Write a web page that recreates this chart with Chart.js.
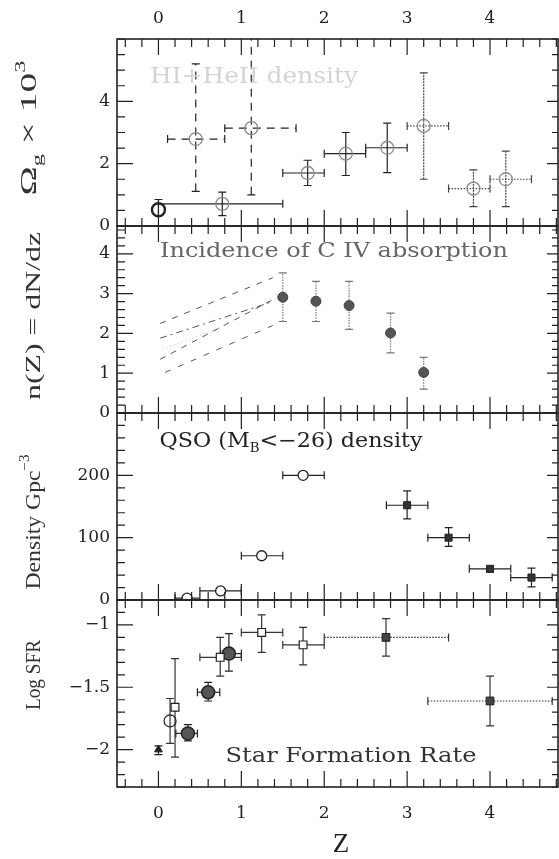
<!DOCTYPE html>
<html>
<head>
<meta charset="utf-8">
<script src="https://cdn.jsdelivr.net/npm/chart.js@4.4.1/dist/chart.umd.min.js"></script>
<style>
  html, body { margin: 0; padding: 0; background: #fff; }
</style>
</head>
<body>
<canvas id="c" width="559" height="859"></canvas>
<script>
// ---- panel 1: gas density, Omega_g x 10^3 ----
const omegaZ    = [0.0, 0.77, 1.80, 2.26, 2.76];
const omegaVal  = [0.52, 0.71, 1.70, 2.32, 2.51];
const omegaLo   = [0.33, 0.33, 1.30, 1.62, 1.71];
const omegaHi   = [0.85, 1.09, 2.11, 3.00, 3.30];
const omegaZLo  = [0.0, 0.0, 1.5, 2.0, 2.5];
const omegaZHi  = [0.0, 1.5, 2.0, 2.5, 3.0];

const omegaDashZ   = [0.45, 1.12];
const omegaDashVal = [2.79, 3.14];
const omegaDashLo  = [1.11, 1.00];
const omegaDashHi  = [5.20, 6.40];
const omegaDashZLo = [0.11, 0.80];
const omegaDashZHi = [0.80, 1.66];

const omegaDotZ   = [3.20, 3.80, 4.19];
const omegaDotVal = [3.21, 1.20, 1.50];
const omegaDotLo  = [1.50, 0.62, 0.62];
const omegaDotHi  = [4.91, 1.80, 2.40];
const omegaDotZLo = [3.0, 3.5, 4.0];
const omegaDotZHi = [3.5, 4.0, 4.5];

// ---- panel 2: incidence of C IV ----
const civZ   = [1.50, 1.90, 2.30, 2.80, 3.20];
const civVal = [2.91, 2.81, 2.70, 2.01, 1.02];
const civLo  = [2.30, 2.30, 2.10, 1.51, 0.60];
const civHi  = [3.52, 3.31, 3.31, 2.51, 1.40];

const civModelZ  = [0.02, 1.38];
const civModel1  = [2.25, 3.40];
const civModel2  = [1.88, 2.80];
const civModel3  = [1.35, 2.85];
const civModel4Z = [0.08, 1.38];
const civModel4  = [1.02, 2.20];
const civFaintZ  = [0.05, 0.75];
const civFaint   = [1.60, 2.15];

// ---- panel 3: QSO density ----
const qsoOpenZ   = [0.345, 0.75, 1.245, 1.745];
const qsoOpenVal = [3, 14.5, 71, 200];
const qsoOpenZLo = [0.2, 0.5, 1.0, 1.5];
const qsoOpenZHi = [0.5, 1.0, 1.5, 2.0];

const qsoSqZ   = [3.0, 3.5, 4.0, 4.5];
const qsoSqVal = [152, 100, 50, 36];
const qsoSqLo  = [130, 86, 45, 21];
const qsoSqHi  = [175, 116, 54, 51];
const qsoSqZLo = [2.75, 3.25, 3.75, 4.25];
const qsoSqZHi = [3.25, 3.75, 4.25, 4.75];

// ---- panel 4: star formation rate ----
const sfrTriZ = [0.0], sfrTriVal = [-2.0], sfrTriLo = [-2.04], sfrTriHi = [-1.97];
const sfrRingZ = [0.14], sfrRingVal = [-1.77], sfrRingLo = [-1.95], sfrRingHi = [-1.59];

const sfrOpenSqZ   = [0.20, 0.745, 1.245, 1.745];
const sfrOpenSqVal = [-1.66, -1.26, -1.06, -1.16];
const sfrOpenSqLo  = [-2.06, -1.41, -1.22, -1.32];
const sfrOpenSqHi  = [-1.27, -1.10, -0.92, -1.02];
const sfrOpenSqZLo = [0.20, 0.50, 1.0, 1.5];
const sfrOpenSqZHi = [0.20, 1.0, 1.5, 2.0];

const sfrDiscZ   = [0.355, 0.60, 0.85];
const sfrDiscVal = [-1.87, -1.54, -1.23];
const sfrDiscLo  = [-1.93, -1.61, -1.37];
const sfrDiscHi  = [-1.80, -1.46, -1.07];
const sfrDiscZLo = [0.21, 0.47, 0.75];
const sfrDiscZHi = [0.47, 0.74, 1.0];

const sfrSqZ   = [2.745, 4.0];
const sfrSqVal = [-1.10, -1.61];
const sfrSqLo  = [-1.25, -1.81];
const sfrSqHi  = [-0.95, -1.41];
const sfrSqZLo = [2.0, 3.25];
const sfrSqZHi = [3.5, 4.75];

// tick labels
const zTicks = [0, 1, 2, 3, 4];
const omegaTicks = [0, 2, 4];
const civTicks = [0, 1, 2, 3, 4];
const qsoTicks = [0, 100, 200];
const sfrTicks = [-2, -1.5, -1];

const pts = (xs, ys) => xs.map((x, i) => ({ x, y: ys[i] }));
const SERIF = '"DejaVu Serif", serif';
const TITLE = '"Liberation Serif", serif';

const panels = ['yO', 'yC', 'yQ', 'yS'];
const minorStep = { yO: 0.5, yC: 0.2, yQ: 20, yS: 0.1 };

// error bars under the markers, clipped to each panel
const errorBars = {
    id: 'errorBars',
    beforeDatasetsDraw(chart) {
        const ctx = chart.ctx;
        chart.data.datasets.forEach((ds, i) => {
            const e = ds.err;
            if (!e) return;
            const meta = chart.getDatasetMeta(i);
            const xs = chart.scales[meta.xAxisID], ys = chart.scales[meta.yAxisID];
            const cap = e.cap || 4;
            ctx.save();
            ctx.beginPath();
            ctx.rect(xs.left, ys.top, xs.right - xs.left, ys.bottom - ys.top);
            ctx.clip();
            ctx.strokeStyle = e.color || '#222';
            ctx.lineWidth = e.width || 1.2;
            ds.data.forEach((p, j) => {
                const px = xs.getPixelForValue(p.x), py = ys.getPixelForValue(p.y);
                if (e.yLo && e.yLo[j] !== e.yHi[j]) {
                    const a = ys.getPixelForValue(e.yLo[j]), b = ys.getPixelForValue(e.yHi[j]);
                    ctx.setLineDash(e.yDash || []);
                    ctx.beginPath();
                    ctx.moveTo(px, a); ctx.lineTo(px, b);
                    ctx.stroke();
                    ctx.setLineDash([]);
                    ctx.beginPath();
                    ctx.moveTo(px - cap, a); ctx.lineTo(px + cap, a);
                    ctx.moveTo(px - cap, b); ctx.lineTo(px + cap, b);
                    ctx.stroke();
                }
                if (e.xLo && e.xLo[j] !== e.xHi[j]) {
                    const a = xs.getPixelForValue(e.xLo[j]), b = xs.getPixelForValue(e.xHi[j]);
                    ctx.setLineDash(e.xDash || []);
                    ctx.beginPath();
                    ctx.moveTo(a, py); ctx.lineTo(b, py);
                    ctx.stroke();
                    ctx.setLineDash([]);
                    ctx.beginPath();
                    ctx.moveTo(a, py - cap); ctx.lineTo(a, py + cap);
                    ctx.moveTo(b, py - cap); ctx.lineTo(b, py + cap);
                    ctx.stroke();
                }
            });
            ctx.restore();
        });
    }
};

// boxes with inward ticks on all four sides of every panel
const panelFrame = {
    id: 'panelFrame',
    afterDatasetsDraw(chart) {
        const ctx = chart.ctx, xs = chart.scales.x;
        const l = xs.left, r = xs.right;
        ctx.save();
        ctx.strokeStyle = '#222';
        panels.forEach(id => {
            const ys = chart.scales[id];
            const t = ys.top, b = ys.bottom;
            ctx.lineWidth = 1.2;
            ctx.beginPath();
            for (let k = Math.ceil(xs.min / 0.2); k * 0.2 <= xs.max + 1e-9; k++) {
                const v = k * 0.2;
                const len = Math.abs(v - Math.round(v)) < 1e-6 ? 16 : 8;
                const p = xs.getPixelForValue(v);
                ctx.moveTo(p, t); ctx.lineTo(p, t + len);
                ctx.moveTo(p, b); ctx.lineTo(p, b - len);
            }
            const step = minorStep[id];
            const majors = ys.ticks.map(tk => tk.value);
            for (let k = Math.ceil(ys.min / step - 1e-9); k * step <= ys.max + 1e-9; k++) {
                const v = k * step;
                const major = majors.some(m => Math.abs(m - v) < 1e-6);
                const p = ys.getPixelForValue(v);
                ctx.moveTo(l, p); ctx.lineTo(l + (major ? 16 : 8), p);
                ctx.moveTo(r, p); ctx.lineTo(r - (major ? 11 : 6), p);
            }
            ctx.stroke();
            ctx.lineWidth = 1.6;
            ctx.strokeRect(l, t, r - l, b - t);
        });
        ctx.restore();
    }
};

function drawRich(ctx, segs, x, y, o) {
    ctx.save();
    ctx.translate(x, y);
    if (o.angle) ctx.rotate(o.angle);
    const fontFor = s => ((s.sub || s.sup) ? Math.round(o.size * 0.62) : o.size) + 'px ' + o.family;
    let w = 0;
    segs.forEach(s => { ctx.font = fontFor(s); w += ctx.measureText(s.t).width; });
    if (o.length) ctx.scale(o.length / w, 1);
    ctx.fillStyle = o.color;
    ctx.textBaseline = 'middle';
    ctx.textAlign = 'left';
    let cx = -w / 2;
    segs.forEach(s => {
        ctx.font = fontFor(s);
        const dy = s.sub ? o.size * 0.32 : s.sup ? -o.size * 0.38 : 0;
        ctx.fillText(s.t, cx, dy);
        cx += ctx.measureText(s.t).width;
    });
    ctx.restore();
}

const labels = {
    id: 'labels',
    afterDraw(chart) {
        const ctx = chart.ctx;
        const up = -Math.PI / 2;
        drawRich(ctx, [{ t: 'Ω' }, { t: 'g', sub: true }, { t: ' × 10' }, { t: '3', sup: true }], 30, 128,
            { size: 24, family: TITLE, color: '#333', angle: up, length: 135 });
        drawRich(ctx, [{ t: 'n(Z) = dN/dz' }], 34, 316,
            { size: 22, family: TITLE, color: '#333', angle: up, length: 168 });
        drawRich(ctx, [{ t: 'Density Gpc' }, { t: '−3', sup: true }], 34, 522,
            { size: 22, family: TITLE, color: '#333', angle: up, length: 135 });
        drawRich(ctx, [{ t: 'Log SFR' }], 35, 675,
            { size: 20, family: TITLE, color: '#333', angle: up, length: 70 });
        drawRich(ctx, [{ t: 'Z' }], 341, 845, { size: 27, family: TITLE, color: '#222' });

        drawRich(ctx, [{ t: 'HI+HeII density' }], 254, 77, { size: 22, family: SERIF, color: '#d4d4d4', length: 208 });
        drawRich(ctx, [{ t: 'Incidence of C IV absorption' }], 334, 252, { size: 20, family: SERIF, color: '#666', length: 348 });
        drawRich(ctx, [{ t: 'QSO (M' }, { t: 'B', sub: true }, { t: '<−26) density' }], 291, 442,
            { size: 20, family: SERIF, color: '#222', length: 263 });
        drawRich(ctx, [{ t: 'Star Formation Rate' }], 351, 757, { size: 20, family: SERIF, color: '#333', length: 251 });
    }
};

const tickFont = { family: SERIF, size: 17 };
const minus = v => String(v).replace('-', '−');

function yAxis(min, max, ticks) {
    return {
        type: 'linear', position: 'left', stack: 'panels', stackWeight: 1,
        min, max,
        afterBuildTicks: s => { s.ticks = ticks.map(v => ({ value: v })); },
        afterFit: s => { s.width = 117; },
        grid: { display: false, drawTicks: false },
        border: { display: false },
        ticks: { font: tickFont, color: '#222', padding: 7, callback: minus }
    };
}

function xAxis(pos, height, pad) {
    return {
        type: 'linear', position: pos, min: -0.5, max: 4.82,
        afterBuildTicks: s => { s.ticks = zTicks.map(v => ({ value: v })); },
        afterFit: s => { s.height = height; },
        grid: { display: false, drawTicks: false },
        border: { display: false },
        ticks: { font: tickFont, color: '#222', padding: pad, maxRotation: 0 }
    };
}

const ring = { pointStyle: 'circle', pointRadius: 6.5, pointBackgroundColor: 'rgba(0,0,0,0)', pointBorderColor: '#8a8a8a', pointBorderWidth: 1.3 };

new Chart(document.getElementById('c'), {
    type: 'scatter',
    data: {
        datasets: [
            // panel 1
            { yAxisID: 'yO', data: pts(omegaZ, omegaVal), ...ring,
              pointBorderColor: ['#222', '#8a8a8a', '#8a8a8a', '#8a8a8a', '#8a8a8a'],
              pointBorderWidth: [2.4, 1.3, 1.3, 1.3, 1.3],
              err: { yLo: omegaLo, yHi: omegaHi, xLo: omegaZLo, xHi: omegaZHi, color: '#222' } },
            { yAxisID: 'yO', data: pts(omegaDashZ, omegaDashVal), ...ring,
              err: { yLo: omegaDashLo, yHi: omegaDashHi, xLo: omegaDashZLo, xHi: omegaDashZHi, color: '#222', xDash: [8, 6], yDash: [8, 6] } },
            { yAxisID: 'yO', data: pts(omegaDotZ, omegaDotVal), ...ring,
              err: { yLo: omegaDotLo, yHi: omegaDotHi, xLo: omegaDotZLo, xHi: omegaDotZHi, color: '#444', xDash: [1.5, 1.5], yDash: [2, 1] } },

            // panel 2
            { type: 'line', yAxisID: 'yC', data: pts(civModelZ, civModel1), borderColor: '#555', borderWidth: 1, borderDash: [6, 7], pointRadius: 0 },
            { type: 'line', yAxisID: 'yC', data: pts(civModelZ, civModel2), borderColor: '#555', borderWidth: 1, borderDash: [7, 4, 2, 4], pointRadius: 0 },
            { type: 'line', yAxisID: 'yC', data: pts(civModelZ, civModel3), borderColor: '#555', borderWidth: 1, borderDash: [6, 6], pointRadius: 0 },
            { type: 'line', yAxisID: 'yC', data: pts(civModel4Z, civModel4), borderColor: '#555', borderWidth: 1, borderDash: [6, 8], pointRadius: 0 },
            { type: 'line', yAxisID: 'yC', data: pts(civFaintZ, civFaint), borderColor: '#bbb', borderWidth: 1, borderDash: [1, 3], pointRadius: 0 },
            { yAxisID: 'yC', data: pts(civZ, civVal), pointStyle: 'circle', pointRadius: 5, pointBackgroundColor: '#555', pointBorderColor: '#444', pointBorderWidth: 1,
              err: { yLo: civLo, yHi: civHi, color: '#777', yDash: [1.5, 1.2], cap: 4 } },

            // panel 3
            { yAxisID: 'yQ', data: pts(qsoOpenZ, qsoOpenVal), pointStyle: 'circle', pointRadius: 5, pointBackgroundColor: '#fff', pointBorderColor: '#222', pointBorderWidth: 1.3,
              err: { xLo: qsoOpenZLo, xHi: qsoOpenZHi, color: '#222' } },
            { yAxisID: 'yQ', data: pts(qsoSqZ, qsoSqVal), pointStyle: 'rect', pointRadius: 5, pointBackgroundColor: '#333', pointBorderColor: '#222', pointBorderWidth: 1,
              err: { yLo: qsoSqLo, yHi: qsoSqHi, xLo: qsoSqZLo, xHi: qsoSqZHi, color: '#222' } },

            // panel 4
            { yAxisID: 'yS', data: pts(sfrTriZ, sfrTriVal), pointStyle: 'triangle', pointRadius: 4.5, pointBackgroundColor: '#222', pointBorderColor: '#222',
              err: { yLo: sfrTriLo, yHi: sfrTriHi, color: '#222' } },
            { yAxisID: 'yS', data: pts(sfrRingZ, sfrRingVal), pointStyle: 'circle', pointRadius: 6, pointBackgroundColor: 'rgba(0,0,0,0)', pointBorderColor: '#222', pointBorderWidth: 1.2,
              err: { yLo: sfrRingLo, yHi: sfrRingHi, color: '#333' } },
            { yAxisID: 'yS', data: pts(sfrOpenSqZ, sfrOpenSqVal), pointStyle: 'rect', pointRadius: 5.5, pointBackgroundColor: '#fff', pointBorderColor: '#222', pointBorderWidth: 1.2,
              err: { yLo: sfrOpenSqLo, yHi: sfrOpenSqHi, xLo: sfrOpenSqZLo, xHi: sfrOpenSqZHi, color: '#333' } },
            { yAxisID: 'yS', data: pts(sfrDiscZ, sfrDiscVal), pointStyle: 'circle', pointRadius: 6.5, pointBackgroundColor: '#555', pointBorderColor: '#222', pointBorderWidth: 1.5,
              err: { yLo: sfrDiscLo, yHi: sfrDiscHi, xLo: sfrDiscZLo, xHi: sfrDiscZHi, color: '#222' } },
            { yAxisID: 'yS', data: pts(sfrSqZ, sfrSqVal), pointStyle: 'rect', pointRadius: 5.5, pointBackgroundColor: '#444', pointBorderColor: '#222', pointBorderWidth: 1,
              err: { yLo: sfrSqLo, yHi: sfrSqHi, xLo: sfrSqZLo, xHi: sfrSqZHi, color: '#333', xDash: [1.5, 1.5] } }
        ]
    },
    options: {
        responsive: false,
        animation: false,
        layout: { autoPadding: false, padding: { top: 0, right: 1, bottom: 0, left: 0 } },
        plugins: { legend: { display: false }, tooltip: { enabled: false } },
        scales: {
            x: xAxis('bottom', 72, 16),
            xTop: xAxis('top', 39, 10),
            // stacked bottom to top
            yS: yAxis(-2.3, -0.8, sfrTicks),
            yQ: yAxis(0, 300, qsoTicks),
            yC: yAxis(0, 4.7, civTicks),
            yO: yAxis(0, 6, omegaTicks)
        }
    },
    plugins: [errorBars, panelFrame, labels]
});
</script>
</body>
</html>
